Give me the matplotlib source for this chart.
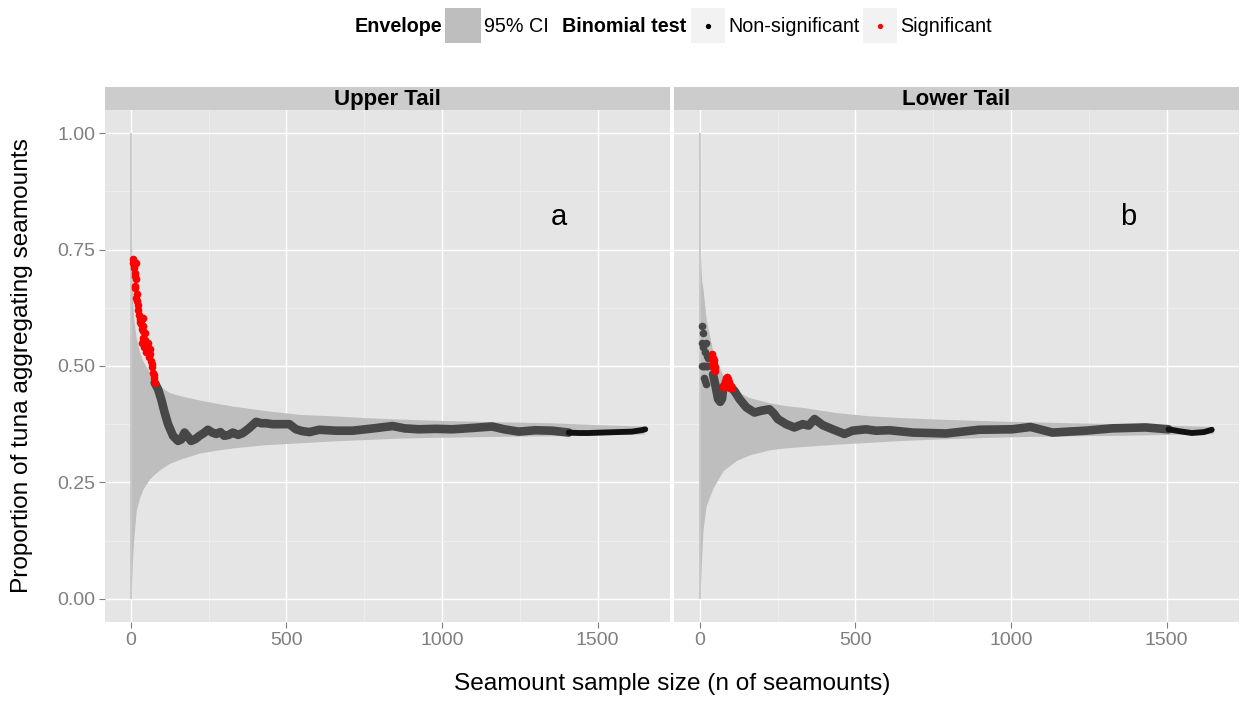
import matplotlib
matplotlib.use("Agg")
import matplotlib.pyplot as plt
from matplotlib.patches import Rectangle
from matplotlib.ticker import MultipleLocator

plt.rcParams["font.family"] = ["Liberation Sans", "DejaVu Sans"]

panels = ["Upper Tail", "Lower Tail"]
panel_tags = ["a", "b"]

# envelope (95% CI)
env_up_n = [1, 2, 3, 5, 7, 10, 18, 29, 40, 61, 93, 125, 160, 221, 275, 327, 435, 542, 648, 755, 862, 1000, 1200, 1354, 1500, 1650]
env_up_hi = [1.0, 0.80, 0.76, 0.69, 0.63, 0.60, 0.56, 0.529, 0.51, 0.486, 0.457, 0.443, 0.436, 0.427, 0.420, 0.414, 0.404, 0.396, 0.393, 0.389, 0.386, 0.383, 0.380, 0.378, 0.374, 0.371]
env_up_lo = [0.0, 0.0, 0.03, 0.07, 0.10, 0.13, 0.19, 0.218, 0.236, 0.258, 0.277, 0.291, 0.300, 0.313, 0.319, 0.324, 0.331, 0.335, 0.339, 0.342, 0.345, 0.347, 0.349, 0.350, 0.352, 0.354]

env_lo_n = [1, 2, 3, 5, 7, 11, 21, 43, 75, 118, 160, 224, 275, 331, 438, 545, 652, 759, 900, 1000, 1200, 1350, 1500, 1650]
env_lo_hi = [1.0, 0.75, 0.73, 0.70, 0.68, 0.664, 0.60, 0.529, 0.479, 0.446, 0.432, 0.421, 0.415, 0.411, 0.400, 0.393, 0.389, 0.386, 0.383, 0.381, 0.378, 0.376, 0.373, 0.370]
env_lo_lo = [0.0, 0.0, 0.03, 0.07, 0.10, 0.15, 0.20, 0.238, 0.275, 0.297, 0.309, 0.320, 0.324, 0.327, 0.332, 0.336, 0.340, 0.343, 0.346, 0.348, 0.350, 0.351, 0.353, 0.355]

# upper tail: significant points and non-significant path
up_sig_n = [7, 9, 10, 12, 16, 13, 15, 16, 13, 15, 20, 18, 20, 22, 24, 26, 29, 31, 33, 36, 40, 35, 38, 41, 45, 35, 38, 42, 46, 56, 50, 53, 61, 58, 63, 66, 68, 70, 72, 74, 75, 77]
up_sig_p = [0.729, 0.722, 0.715, 0.710, 0.721, 0.700, 0.693, 0.686, 0.668, 0.672, 0.654, 0.646, 0.639, 0.630, 0.621, 0.610, 0.600, 0.594, 0.590, 0.600, 0.604, 0.579, 0.585, 0.575, 0.571, 0.550, 0.560, 0.540, 0.555, 0.550, 0.530, 0.545, 0.536, 0.520, 0.526, 0.511, 0.505, 0.498, 0.486, 0.480, 0.475, 0.464]
up_ns_n = [77, 88, 98, 109, 120, 136, 152, 162, 173, 184, 194, 208, 221, 235, 248, 262, 275, 288, 301, 315, 328, 345, 360, 380, 403, 420, 435, 455, 478, 510, 531, 552, 574, 606, 660, 713, 780, 841, 880, 926, 980, 1033, 1100, 1161, 1200, 1247, 1300, 1354, 1407]
up_ns_p = [0.464, 0.450, 0.429, 0.400, 0.375, 0.350, 0.339, 0.342, 0.357, 0.348, 0.339, 0.343, 0.350, 0.356, 0.363, 0.357, 0.354, 0.358, 0.350, 0.352, 0.357, 0.352, 0.356, 0.366, 0.380, 0.377, 0.377, 0.375, 0.375, 0.375, 0.364, 0.360, 0.358, 0.363, 0.361, 0.361, 0.366, 0.371, 0.366, 0.364, 0.365, 0.364, 0.367, 0.370, 0.364, 0.359, 0.362, 0.361, 0.357]
up_end_n = [1407, 1440, 1470, 1514, 1560, 1610, 1640, 1653]
up_end_p = [0.357, 0.356, 0.356, 0.357, 0.358, 0.359, 0.362, 0.364]

# lower tail
lo_sig_n = [38, 40, 42, 44, 46, 48, 41, 45, 49, 43, 47, 74, 78, 82, 85, 88, 91, 94, 97, 100, 103, 80, 86, 92, 98]
lo_sig_p = [0.515, 0.525, 0.518, 0.510, 0.504, 0.497, 0.500, 0.492, 0.489, 0.507, 0.512, 0.455, 0.462, 0.468, 0.474, 0.477, 0.471, 0.466, 0.460, 0.456, 0.452, 0.455, 0.462, 0.460, 0.452]
lo_loose_n = [9, 11, 19, 8, 12, 17, 22, 27, 6, 10, 14, 18, 22, 25, 15, 17, 19]
lo_loose_p = [0.586, 0.571, 0.550, 0.550, 0.540, 0.530, 0.522, 0.518, 0.500, 0.500, 0.500, 0.500, 0.500, 0.500, 0.474, 0.467, 0.461]
lo_ns_n = [43, 51, 59, 66, 72, 76, 88, 100, 112, 128, 150, 176, 198, 224, 238, 251, 278, 304, 331, 350, 369, 395, 427, 465, 491, 534, 566, 609, 684, 791, 897, 1004, 1063, 1133, 1239, 1325, 1432, 1506]
lo_ns_p = [0.482, 0.457, 0.429, 0.423, 0.430, 0.455, 0.455, 0.455, 0.446, 0.429, 0.411, 0.400, 0.404, 0.407, 0.398, 0.386, 0.375, 0.368, 0.375, 0.372, 0.386, 0.373, 0.364, 0.354, 0.361, 0.364, 0.361, 0.362, 0.357, 0.355, 0.363, 0.364, 0.369, 0.357, 0.361, 0.366, 0.368, 0.364]
lo_end_n = [1506, 1540, 1581, 1620, 1645]
lo_end_p = [0.364, 0.360, 0.356, 0.358, 0.363]

fig = plt.figure(figsize=(12.41, 7.02), dpi=100)
W, H = 1241, 702

def px_axes(x0, y0, x1, y1):
    return fig.add_axes([x0 / W, 1 - y1 / H, (x1 - x0) / W, (y1 - y0) / H])

ax1 = px_axes(105, 110, 670, 622)
ax2 = px_axes(674, 110, 1239, 622)

data = [
    (env_up_n, env_up_hi, env_up_lo, up_ns_n, up_ns_p, up_end_n, up_end_p, up_sig_n, up_sig_p, [], []),
    (env_lo_n, env_lo_hi, env_lo_lo, lo_ns_n, lo_ns_p, lo_end_n, lo_end_p, lo_sig_n, lo_sig_p, lo_loose_n, lo_loose_p),
]

for i, (ax, d) in enumerate(zip([ax1, ax2], data)):
    en, ehi, elo, nn, npv, endn, endp, sn, sp, ln, lp = d
    ax.set_facecolor("#E5E5E5")
    for s in ax.spines.values():
        s.set_visible(False)
    ax.set_xlim(-82.5, 1732.5)
    ax.set_ylim(-0.05, 1.05)
    ax.xaxis.set_major_locator(MultipleLocator(500))
    ax.xaxis.set_minor_locator(MultipleLocator(250))
    ax.yaxis.set_major_locator(MultipleLocator(0.25))
    ax.yaxis.set_minor_locator(MultipleLocator(0.125))
    ax.grid(which="major", color="white", lw=1.0)
    ax.grid(which="minor", color="#EFEFEF", lw=0.6)
    ax.set_axisbelow(True)
    ax.tick_params(which="minor", length=0)
    ax.tick_params(which="major", length=4, color="#7F7F7F", labelsize=14, labelcolor="#7F7F7F", pad=3)
    if i == 1:
        ax.set_yticklabels([])
        ax.tick_params(axis="y", length=0)
    else:
        ax.set_yticks([0, 0.25, 0.5, 0.75, 1.0])
        ax.set_yticklabels(["0.00", "0.25", "0.50", "0.75", "1.00"])

    ax.fill_between(en, elo, ehi, color="#BEBEBE", lw=0, zorder=2)
    # the n=1 interval spans 0..1 as a thin bar
    ax.vlines(en[0], elo[0], ehi[0], color="#C4C4C4", lw=1.2, zorder=2)
    ax.plot(nn, npv, color="#474747", lw=6.2, solid_capstyle="round", solid_joinstyle="round", zorder=3)
    ax.plot(endn, endp, color="#111111", lw=4.2, solid_capstyle="round", zorder=3)
    if ln:
        ax.plot(ln, lp, "o", color="#474747", ms=5.5, mew=0, ls="none", zorder=3)
    ax.plot(sn, sp, "o", color="#FF0000", ms=5.5, mew=0, ls="none", zorder=4)
    ax.text(1375, 0.82, panel_tags[i], fontsize=21, ha="center", va="center")

    # strip
    x0 = 105 if i == 0 else 674
    x1 = 670 if i == 0 else 1239
    fig.patches.append(Rectangle((x0 / W, 1 - 110 / H), (x1 - x0) / W, 23 / H,
                                 transform=fig.transFigure, color="#CCCCCC", lw=0))
    fig.text((x0 + x1) / 2 / W, 1 - 99.5 / H, panels[i], fontsize=16, fontweight="bold",
             ha="center", va="center")

fig.text(672 / W, 1 - 684 / H, "Seamount sample size (n of seamounts)", fontsize=17.6,
         ha="center", va="center")
fig.text(22 / W, 1 - 366 / H, "Proportion of tuna aggregating seamounts", fontsize=17.6,
         ha="center", va="center", rotation=90)

# legend
ly = 1 - 26 / H
fig.text(355 / W, ly, "Envelope", fontsize=14.2, fontweight="bold", va="center")
fig.patches.append(Rectangle((445 / W, 1 - 43 / H), 36 / W, 35 / H, transform=fig.transFigure,
                             color="#BEBEBE", lw=0))
fig.text(484 / W, ly, "95% CI", fontsize=14.2, va="center")
fig.text(562 / W, ly, "Binomial test", fontsize=14.2, fontweight="bold", va="center")
for kx, col, lab in [(691, "black", "Non-significant"), (863, "red", "Significant")]:
    fig.patches.append(Rectangle((kx / W, 1 - 43 / H), 34 / W, 35 / H, transform=fig.transFigure,
                                 color="#F2F2F2", lw=0))
    fig.add_artist(plt.Line2D([(kx + 17) / W], [ly], marker="o", color=col, ms=3.8, mew=0,
                              transform=fig.transFigure))
    fig.text((kx + 37) / W, ly, lab, fontsize=14.2, va="center")

fig.savefig("out.png", dpi=100, facecolor="white")
